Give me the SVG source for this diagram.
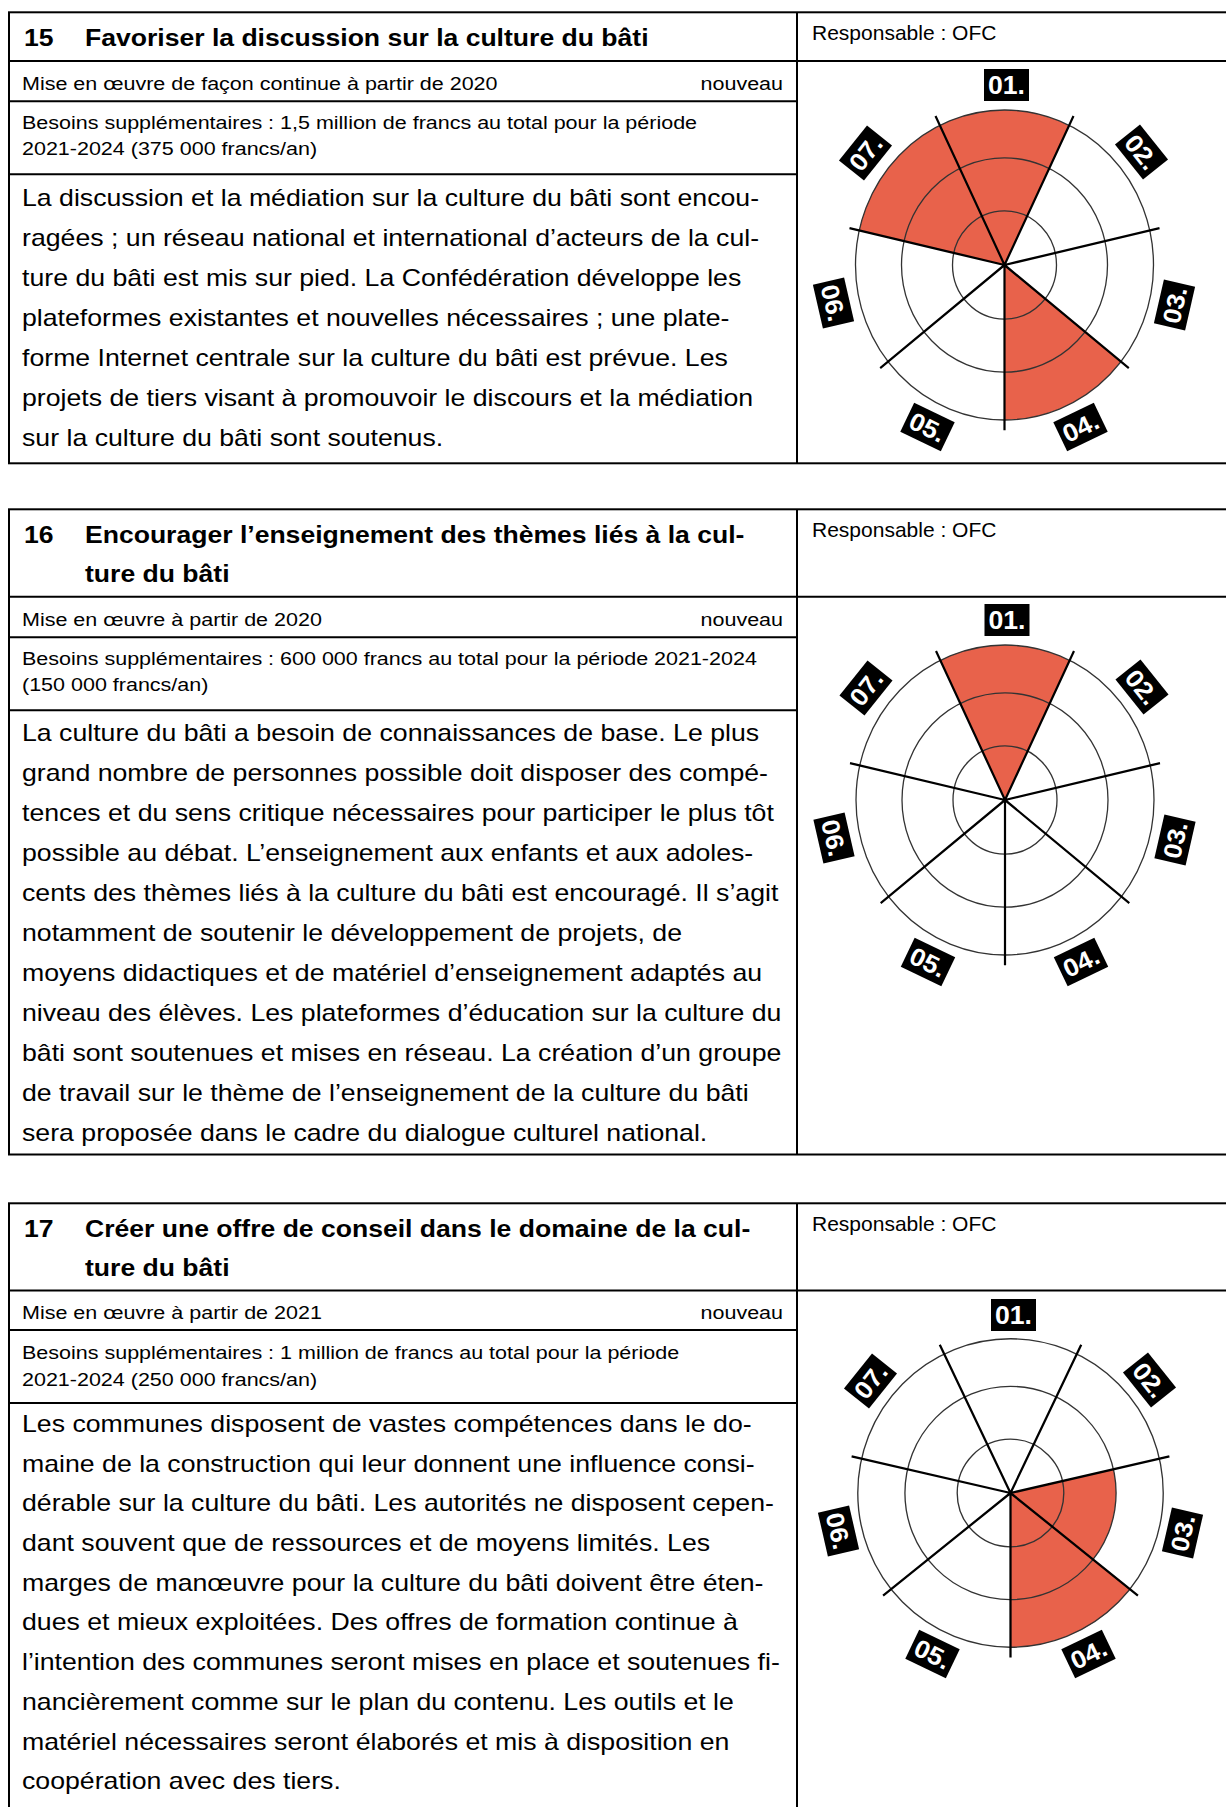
<svg xmlns="http://www.w3.org/2000/svg" xmlns:xlink="http://www.w3.org/1999/xlink" width="1226" height="1807" viewBox="0 0 1226 1807">
<style>
.b{stroke:#000;stroke-width:2;fill:none}
.t{font-family:"Liberation Sans",Arial,Helvetica,sans-serif;fill:#000}
.ttl{font-weight:bold;font-size:23.1px}
.sm{font-size:18.7px}
.bd{font-size:23.2px}
.resp{font-size:21px}
.ring{fill:none;stroke:#333;stroke-width:1.3}
.spoke{stroke:#000;stroke-width:2.2;fill:none}
.sec{fill:#E8624B}
.lbt{font-family:"Liberation Sans",Arial,Helvetica,sans-serif;font-weight:bold;font-size:25px;fill:#fff;text-anchor:middle}
.end{text-anchor:end}
</style>
<defs>
<rect id="lbox" x="-22.5" y="-16" width="45" height="32" fill="#000"/>
<g id="grid">
<circle class="ring" r="52"/>
<circle class="ring" r="103"/>
<circle class="ring" r="149"/>
<path class="spoke" d="M0 0L68.99 -143.25M0 0L155.01 -35.38M0 0L124.31 99.13M0 0L0 159M0 0L-124.31 99.13M0 0L-155.01 -35.38M0 0L-68.99 -143.25"/>
</g>
</defs>

<!-- ===== 15 ===== -->
<g id="action-15">
<rect class="b" x="9" y="12.3" width="1225" height="451"/>
<line class="b" x1="9" y1="61" x2="1230" y2="61"/>
<line class="b" x1="9" y1="101.3" x2="797" y2="101.3"/>
<line class="b" x1="9" y1="174.3" x2="797" y2="174.3"/>
<line class="b" x1="797" y1="12.3" x2="797" y2="463.3"/>
<g transform="scale(1.15 1)">
<text class="t ttl" x="20.87" y="45.8">15</text>
<text class="t ttl" x="73.91" y="45.8">Favoriser la discussion sur la culture du bâti</text>
<text class="t sm" x="19.13" y="89.9">Mise en œuvre de façon continue à partir de 2020</text>
<text class="t sm end" x="680.9" y="89.9">nouveau</text>
<text class="t sm"><tspan x="19.13" y="129.2">Besoins supplémentaires : 1,5 million de francs au total pour la période</tspan><tspan x="19.13" y="155.2">2021-2024 (375 000 francs/an)</tspan></text>
<text class="t bd"><tspan x="19.13" y="206">La discussion et la médiation sur la culture du bâti sont encou-</tspan><tspan x="19.13" y="246">ragées ; un réseau national et international d’acteurs de la cul-</tspan><tspan x="19.13" y="286">ture du bâti est mis sur pied. La Confédération développe les</tspan><tspan x="19.13" y="326">plateformes existantes et nouvelles nécessaires ; une plate-</tspan><tspan x="19.13" y="366">forme Internet centrale sur la culture du bâti est prévue. Les</tspan><tspan x="19.13" y="406">projets de tiers visant à promouvoir le discours et la médiation</tspan><tspan x="19.13" y="446">sur la culture du bâti sont soutenus.</tspan></text>
</g>
<text class="t resp" x="812" y="39.6">Responsable : OFC</text>
<g id="chart-15" transform="translate(1004.5 265)">
<g transform="scale(1 1.04)">
<path class="sec" d="M0 0L-64.65 -134.24A149 149 0 0 1 64.65 -134.24Z"/>
<path class="sec" d="M0 0L-145.26 -33.16A149 149 0 0 1 -64.65 -134.24Z"/>
<path class="sec" d="M0 0L116.49 92.9A149 149 0 0 1 0 149Z"/>
<use xlink:href="#grid" href="#grid"/>
</g>
<g transform="translate(2 -180)"><use xlink:href="#lbox" href="#lbox"/><text class="lbt" y="9" textLength="37" lengthAdjust="spacingAndGlyphs">01.</text></g>
<g transform="translate(137 -113) rotate(51.43)"><use xlink:href="#lbox" href="#lbox"/><text class="lbt" y="9" textLength="37" lengthAdjust="spacingAndGlyphs">02.</text></g>
<g transform="translate(170 40) rotate(-77.14)"><use xlink:href="#lbox" href="#lbox"/><text class="lbt" y="9" textLength="37" lengthAdjust="spacingAndGlyphs">03.</text></g>
<g transform="translate(76 162) rotate(-25.71)"><use xlink:href="#lbox" href="#lbox"/><text class="lbt" y="9" textLength="37" lengthAdjust="spacingAndGlyphs">04.</text></g>
<g transform="translate(-77 162) rotate(25.71)"><use xlink:href="#lbox" href="#lbox"/><text class="lbt" y="9" textLength="37" lengthAdjust="spacingAndGlyphs">05.</text></g>
<g transform="translate(-171 38) rotate(77.14)"><use xlink:href="#lbox" href="#lbox"/><text class="lbt" y="9" textLength="37" lengthAdjust="spacingAndGlyphs">06.</text></g>
<g transform="translate(-139 -112) rotate(-51.43)"><use xlink:href="#lbox" href="#lbox"/><text class="lbt" y="9" textLength="37" lengthAdjust="spacingAndGlyphs">07.</text></g>
</g>
</g>

<!-- ===== 16 ===== -->
<g id="action-16">
<rect class="b" x="9" y="509.3" width="1225" height="645.2"/>
<line class="b" x1="9" y1="596.7" x2="1230" y2="596.7"/>
<line class="b" x1="9" y1="637.3" x2="797" y2="637.3"/>
<line class="b" x1="9" y1="710.3" x2="797" y2="710.3"/>
<line class="b" x1="797" y1="509.3" x2="797" y2="1154.5"/>
<g transform="scale(1.15 1)">
<text class="t ttl" x="20.87" y="543.5">16</text>
<text class="t ttl"><tspan x="73.91" y="543.5">Encourager l’enseignement des thèmes liés à la cul-</tspan><tspan x="73.91" y="582">ture du bâti</tspan></text>
<text class="t sm" x="19.13" y="625.6">Mise en œuvre à partir de 2020</text>
<text class="t sm end" x="680.9" y="625.6">nouveau</text>
<text class="t sm"><tspan x="19.13" y="665.2">Besoins supplémentaires : 600 000 francs au total pour la période 2021-2024</tspan><tspan x="19.13" y="691.2">(150 000 francs/an)</tspan></text>
<text class="t bd"><tspan x="19.13" y="741.5">La culture du bâti a besoin de connaissances de base. Le plus</tspan><tspan x="19.13" y="781.5">grand nombre de personnes possible doit disposer des compé-</tspan><tspan x="19.13" y="821.5">tences et du sens critique nécessaires pour participer le plus tôt</tspan><tspan x="19.13" y="861.5">possible au débat. L’enseignement aux enfants et aux adoles-</tspan><tspan x="19.13" y="901.5">cents des thèmes liés à la culture du bâti est encouragé. Il s’agit</tspan><tspan x="19.13" y="941.5">notamment de soutenir le développement de projets, de</tspan><tspan x="19.13" y="981.5">moyens didactiques et de matériel d’enseignement adaptés au</tspan><tspan x="19.13" y="1021.5">niveau des élèves. Les plateformes d’éducation sur la culture du</tspan><tspan x="19.13" y="1061.5">bâti sont soutenues et mises en réseau. La création d’un groupe</tspan><tspan x="19.13" y="1101.5">de travail sur le thème de l’enseignement de la culture du bâti</tspan><tspan x="19.13" y="1141.5">sera proposée dans le cadre du dialogue culturel national.</tspan></text>
</g>
<text class="t resp" x="812" y="536.6">Responsable : OFC</text>
<g id="chart-16" transform="translate(1005 800)">
<g transform="scale(1 1.04)">
<path class="sec" d="M0 0L-64.65 -134.24A149 149 0 0 1 64.65 -134.24Z"/>
<use xlink:href="#grid" href="#grid"/>
</g>
<g transform="translate(2 -180)"><use xlink:href="#lbox" href="#lbox"/><text class="lbt" y="9" textLength="37" lengthAdjust="spacingAndGlyphs">01.</text></g>
<g transform="translate(137 -113) rotate(51.43)"><use xlink:href="#lbox" href="#lbox"/><text class="lbt" y="9" textLength="37" lengthAdjust="spacingAndGlyphs">02.</text></g>
<g transform="translate(170 40) rotate(-77.14)"><use xlink:href="#lbox" href="#lbox"/><text class="lbt" y="9" textLength="37" lengthAdjust="spacingAndGlyphs">03.</text></g>
<g transform="translate(76 162) rotate(-25.71)"><use xlink:href="#lbox" href="#lbox"/><text class="lbt" y="9" textLength="37" lengthAdjust="spacingAndGlyphs">04.</text></g>
<g transform="translate(-77 162) rotate(25.71)"><use xlink:href="#lbox" href="#lbox"/><text class="lbt" y="9" textLength="37" lengthAdjust="spacingAndGlyphs">05.</text></g>
<g transform="translate(-171 38) rotate(77.14)"><use xlink:href="#lbox" href="#lbox"/><text class="lbt" y="9" textLength="37" lengthAdjust="spacingAndGlyphs">06.</text></g>
<g transform="translate(-139 -112) rotate(-51.43)"><use xlink:href="#lbox" href="#lbox"/><text class="lbt" y="9" textLength="37" lengthAdjust="spacingAndGlyphs">07.</text></g>
</g>
</g>

<!-- ===== 17 ===== -->
<g id="action-17">
<rect class="b" x="9" y="1203.3" width="1225" height="620"/>
<line class="b" x1="9" y1="1290.5" x2="1230" y2="1290.5"/>
<line class="b" x1="9" y1="1330" x2="797" y2="1330"/>
<line class="b" x1="9" y1="1403" x2="797" y2="1403"/>
<line class="b" x1="797" y1="1203.3" x2="797" y2="1823"/>
<g transform="scale(1.15 1)">
<text class="t ttl" x="20.87" y="1237.3">17</text>
<text class="t ttl"><tspan x="73.91" y="1237.3">Créer une offre de conseil dans le domaine de la cul-</tspan><tspan x="73.91" y="1275.8">ture du bâti</tspan></text>
<text class="t sm" x="19.13" y="1319">Mise en œuvre à partir de 2021</text>
<text class="t sm end" x="680.9" y="1319">nouveau</text>
<text class="t sm"><tspan x="19.13" y="1359.5">Besoins supplémentaires : 1 million de francs au total pour la période</tspan><tspan x="19.13" y="1386">2021-2024 (250 000 francs/an)</tspan></text>
<text class="t bd"><tspan x="19.13" y="1432">Les communes disposent de vastes compétences dans le do-</tspan><tspan x="19.13" y="1471.7">maine de la construction qui leur donnent une influence consi-</tspan><tspan x="19.13" y="1511.4">dérable sur la culture du bâti. Les autorités ne disposent cepen-</tspan><tspan x="19.13" y="1551.1">dant souvent que de ressources et de moyens limités. Les</tspan><tspan x="19.13" y="1590.8">marges de manœuvre pour la culture du bâti doivent être éten-</tspan><tspan x="19.13" y="1630.5">dues et mieux exploitées. Des offres de formation continue à</tspan><tspan x="19.13" y="1670.2">l’intention des communes seront mises en place et soutenues fi-</tspan><tspan x="19.13" y="1709.9">nancièrement comme sur le plan du contenu. Les outils et le</tspan><tspan x="19.13" y="1749.6">matériel nécessaires seront élaborés et mis à disposition en</tspan><tspan x="19.13" y="1789.3">coopération avec des tiers.</tspan></text>
</g>
<text class="t resp" x="812" y="1230.6">Responsable : OFC</text>
<g id="chart-17" transform="translate(1010.5 1493)">
<g transform="scale(1.025 1.035)">
<path class="sec" d="M0 0L100.42 -22.92A103 103 0 0 1 80.53 64.22Z"/>
<path class="sec" d="M0 0L116.49 92.9A149 149 0 0 1 0 149Z"/>
<use xlink:href="#grid" href="#grid"/>
</g>
<g transform="translate(3 -178)"><use xlink:href="#lbox" href="#lbox"/><text class="lbt" y="9" textLength="37" lengthAdjust="spacingAndGlyphs">01.</text></g>
<g transform="translate(139 -113) rotate(51.43)"><use xlink:href="#lbox" href="#lbox"/><text class="lbt" y="9" textLength="37" lengthAdjust="spacingAndGlyphs">02.</text></g>
<g transform="translate(172 40) rotate(-77.14)"><use xlink:href="#lbox" href="#lbox"/><text class="lbt" y="9" textLength="37" lengthAdjust="spacingAndGlyphs">03.</text></g>
<g transform="translate(78 161) rotate(-25.71)"><use xlink:href="#lbox" href="#lbox"/><text class="lbt" y="9" textLength="37" lengthAdjust="spacingAndGlyphs">04.</text></g>
<g transform="translate(-78 161) rotate(25.71)"><use xlink:href="#lbox" href="#lbox"/><text class="lbt" y="9" textLength="37" lengthAdjust="spacingAndGlyphs">05.</text></g>
<g transform="translate(-172 38) rotate(77.14)"><use xlink:href="#lbox" href="#lbox"/><text class="lbt" y="9" textLength="37" lengthAdjust="spacingAndGlyphs">06.</text></g>
<g transform="translate(-140 -112) rotate(-51.43)"><use xlink:href="#lbox" href="#lbox"/><text class="lbt" y="9" textLength="37" lengthAdjust="spacingAndGlyphs">07.</text></g>
</g>
</g>
</svg>
